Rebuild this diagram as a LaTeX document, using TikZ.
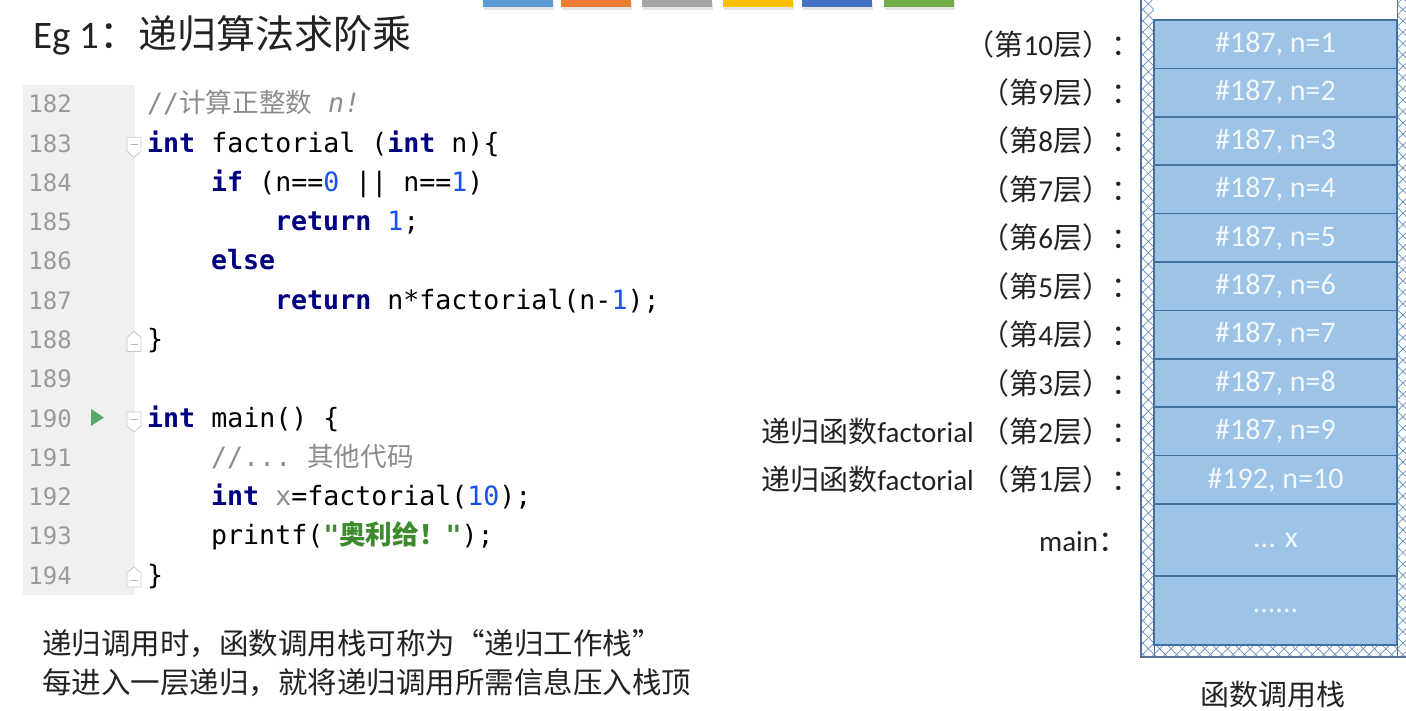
\documentclass[tikz,border=0pt]{standalone}
\usepackage{fontspec}
\setmainfont{Carlito}
\setmonofont{DejaVu Sans Mono}
\newfontfamily\cjk{Noto Sans CJK SC}
\usetikzlibrary{positioning,patterns.meta}

\definecolor{barA}{HTML}{5B9BD5}
\definecolor{barB}{HTML}{ED7D31}
\definecolor{barC}{HTML}{A5A5A5}
\definecolor{barD}{HTML}{FFC000}
\definecolor{barE}{HTML}{4472C4}
\definecolor{barF}{HTML}{70AD47}
\definecolor{gutter}{HTML}{F0F0F0}
\definecolor{lngray}{HTML}{9A9A9A}
\definecolor{kwcol}{HTML}{000080}
\definecolor{numcol}{HTML}{1750EB}
\definecolor{cmtcol}{HTML}{8C8C8C}
\definecolor{strcol}{HTML}{3E8A2E}
\definecolor{rungreen}{HTML}{59A869}
\definecolor{boxfill}{HTML}{9DC3E6}
\definecolor{boxedge}{HTML}{41719C}
\definecolor{boxtext}{HTML}{F2F7FC}
\definecolor{hatch}{HTML}{6A8CBE}
\definecolor{ink}{HTML}{222222}

\newcommand\zh[1]{{\cjk #1}}
\newcommand\kw[1]{{\bfseries\color{kwcol}#1}}
\newcommand\nm[1]{{\color{numcol}#1}}
\newcommand\cm[1]{{\color{cmtcol}#1}}
\newcommand\lay[1]{\zh{（第}#1\zh{层）：}}

\tikzset{
  lineno/.style={anchor=base east, inner sep=0, text=lngray,
    font=\ttfamily\fontsize{24}{28}\selectfont},
  code/.style={anchor=base west, inner sep=0, text=black,
    font=\ttfamily\fontsize{26.6}{30}\selectfont},
  fold/.style={draw=black!22, fill=white, line width=.8pt},
  frame/.style={draw=boxedge, fill=boxfill, line width=1.5pt, inner sep=0,
    minimum width=243, minimum height=48.4, text=boxtext,
    font=\fontsize{30}{33}\selectfont},
  layer/.style={inner sep=0, text=ink, text height=25.5pt, text depth=3.5pt,
    font=\fontsize{29}{33}\selectfont},
  note/.style={anchor=base west, inner sep=0, text=ink,
    font=\cjk\fontsize{29.5}{34}\selectfont}
}

\begin{document}
\begin{tikzpicture}[x=1pt,y=-1pt]
\useasboundingbox (0,0) rectangle (1406,711);
% colour bars
\foreach \x/\c in {483/barA,561/barB,642/barC,723/barD,802/barE,884/barF}{
  \fill[black!10] (\x+1,2) rectangle ++(70,8);
  \fill[\c] (\x,0) rectangle ++(70,7);
}
% title
\node[anchor=base west, inner sep=0, text=ink, font=\fontsize{39}{44}\selectfont]
  (title) at (33,49) {Eg 1\zh{：递归算法求阶乘}};

% editor gutter
\fill[gutter] (23,85) rectangle (135,595);
\foreach \k [evaluate=\k as \lnr using int(182+\k)] in {0,...,12}
  \node[lineno] (ln\lnr) at (72,{113+39.25*\k}) {\lnr};
\fill[rungreen] (91,409) -- (104,417.5) -- (91,426) -- cycle;
% fold markers
\foreach \b in {152.25,427}{
  \draw[fold] (127,\b-15) -- (141,\b-15) -- (141,\b-1) -- (134,\b+5) -- (127,\b-1) -- cycle;
  \draw[black!30, line width=.8pt] (130.5,\b-8) -- (137.5,\b-8);
}
\foreach \b in {348.5,584}{
  \draw[fold] (127,\b+3) -- (141,\b+3) -- (141,\b-11) -- (134,\b-17) -- (127,\b-11) -- cycle;
  \draw[black!30, line width=.8pt] (130.5,\b-4) -- (137.5,\b-4);
}

% code
\node[code] (c182) at (147,113)    {\cm{//\zh{计算正整数} \textit{n!}}};
\node[code] (c183) at (147,152.25) {\kw{int} factorial (\kw{int} n)\{};
\node[code] (c184) at (211,191.5)  {\kw{if} (n==\nm{0} || n==\nm{1})};
\node[code] (c185) at (275,230.75) {\kw{return} \nm{1};};
\node[code] (c186) at (211,270)    {\kw{else}};
\node[code] (c187) at (275,309.25) {\kw{return} n*factorial(n-\nm{1});};
\node[code] (c188) at (147,348.5)  {\}};
\node[code] (c190) at (147,427)    {\kw{int} main() \{};
\node[code] (c191) at (211,466.25) {\cm{//... \zh{其他代码}}};
\node[code] (c192) at (211,505.5)  {\kw{int} \cm{x}=factorial(\nm{10});};
\node[code] (c193) at (211,544.75) {printf({\color{strcol}\bfseries"\zh{奥利给！}"});};
\node[code] (c194) at (147,584)    {\}};

% notes
\node[note] (note1) at (42,654) {递归调用时，函数调用栈可称为“递归工作栈”};
\node[note] (note2) at (42,693) {每进入一层递归，就将递归调用所需信息压入栈顶};

% call stack
\fill[pattern={Lines[angle=45,distance=8pt,line width=.7pt]}, pattern color=hatch]
  (1141,0) rectangle (1410,657);
\fill[pattern={Lines[angle=-45,distance=8pt,line width=.7pt]}, pattern color=hatch]
  (1141,0) rectangle (1410,657);
\draw[hatch!80!black, line width=1.2pt] (1141,0) -- (1141,657) -- (1410,657);
\draw[hatch!80!black, line width=1pt] (1154,0) -- (1154,657) (1397,0) -- (1397,657);
\fill[white] (1154,0) rectangle (1397,20);

\foreach \n/\ret [count=\k] in {1/187,2/187,3/187,4/187,5/187,6/187,7/187,8/187,9/187,10/192}
  \node[frame] (f\n) at (1275.5,{44.2+48.4*(\k-1)}) {\#\ret, n=\n};
\node[frame, minimum height=72] (mainframe) at (1275.5,540) {... x};
\node[frame, minimum height=69] (restframe) at (1275.5,610.5) {......};

\foreach \n [evaluate=\n as \lv using int(11-\n)] in {1,...,8}
  \node[layer, left=13pt of f\n] (lay\lv) {\lay{\lv}};
\node[layer, left=13pt of f9]  (lay2) {\zh{递归函数}factorial \lay{2}};
\node[layer, left=13pt of f10] (lay1) {\zh{递归函数}factorial \lay{1}};
\node[layer, left=26pt of mainframe] (mainlab) {main\zh{：}};

\node[text=ink, font=\cjk\fontsize{29}{32}\selectfont] (caption) at (1273,695) {函数调用栈};
\end{tikzpicture}
\end{document}
